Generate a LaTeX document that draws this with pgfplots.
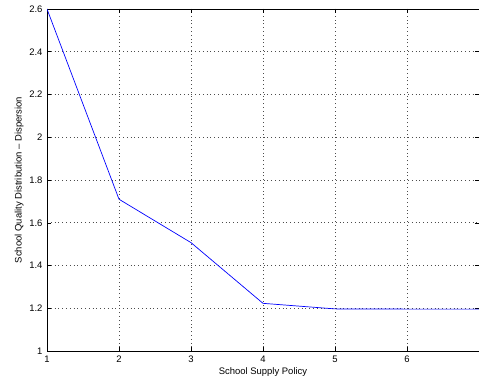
\documentclass[border=0pt]{standalone}
\usepackage{pgfplots}
\pgfplotsset{compat=1.18}
\usepackage{fontspec}
\setmainfont{Liberation Sans}
\begin{document}
\begin{tikzpicture}
\begin{axis}[
  name=ax,
  scale only axis,
  width=432bp, height=342bp,
  xmin=1, xmax=7, ymin=1, ymax=2.6,
  xtick={1,2,3,4,5,6},
  ytick={1,1.2,1.4,1.6,1.8,2,2.2,2.4,2.6},
  yticklabels={1,1.2,1.4,1.6,1.8,2,2.2,2.4,2.6},
  xticklabels={1,2,3,4,5,6},
  grid=major,
  major grid style={black!70, dash pattern=on 0.8bp off 3bp, line width=0.6pt},
  tick align=inside,
  major tick length=4bp,
  axis line style={black, line width=0.8pt},
  tick style={black, line width=0.5pt},
  ticklabel style={font=\fontsize{9.5}{11}\selectfont},
  label style={font=\fontsize{9.5}{11}\selectfont},
  xlabel={School Supply Policy},
  ylabel={School Quality Distribution -- Dispersion},
  xlabel style={yshift=1bp},
  ylabel style={yshift=-1bp},
  xticklabel style={yshift=-1bp},
  yticklabel style={xshift=-1bp},
]
\addplot[blue, line width=0.7pt] coordinates {
(1,2.6) (2,1.71) (3,1.507) (4,1.223) (5,1.197) (6,1.196) (7,1.196)
};
\end{axis}
\pgfresetboundingbox
\path ([shift={(-47bp,-32bp)}]ax.south west) rectangle ([shift={(0bp,9bp)}]ax.north east);
\end{tikzpicture}
\end{document}
